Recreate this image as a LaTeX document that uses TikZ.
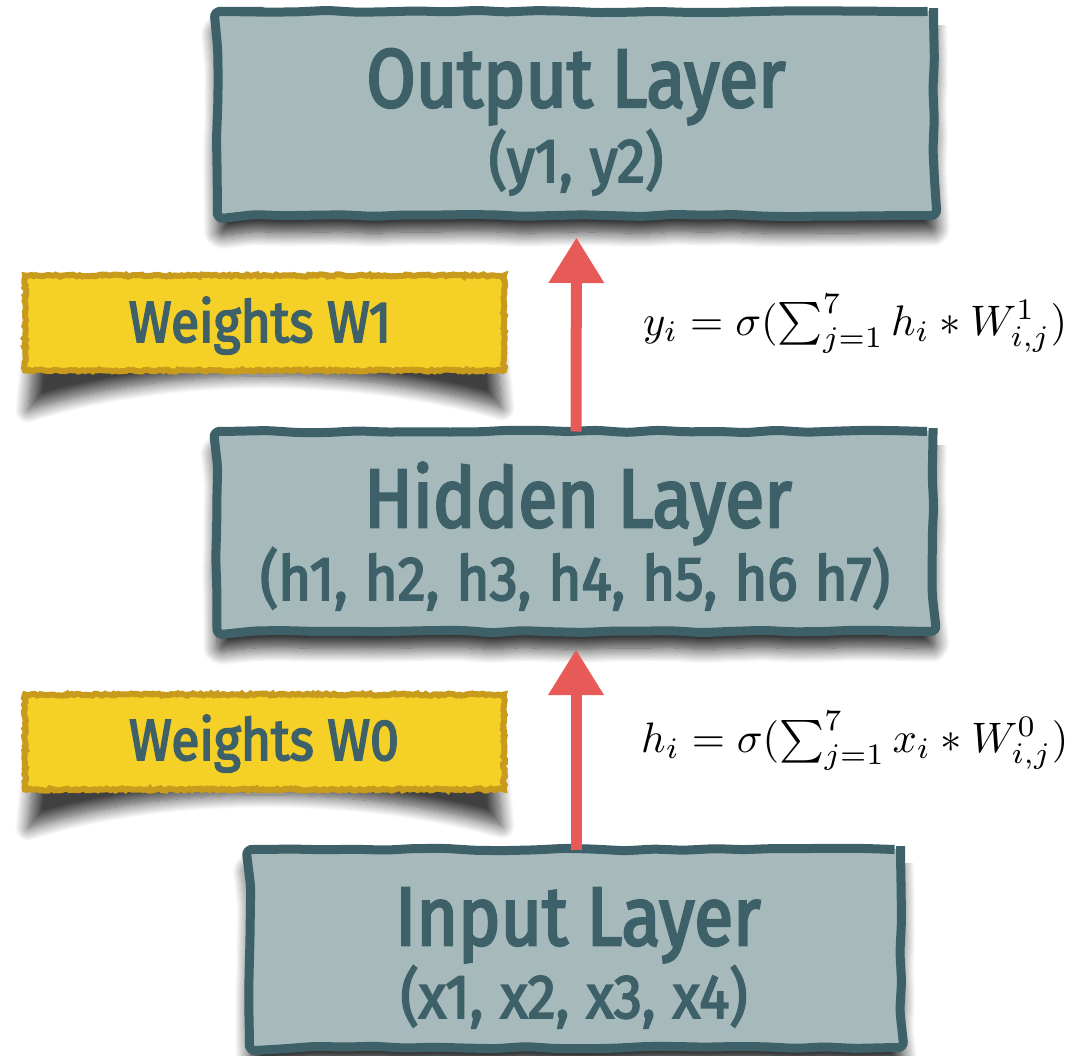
\documentclass[tikz,border=0pt]{standalone}
\usepackage[no-math]{fontspec}
\usepackage{graphicx}
\usetikzlibrary{decorations.pathmorphing,arrows.meta,shadows.blur}
\newfontfamily\dinfont[FakeStretch=0.86, FakeBold=3]{Fira Sans}
\newfontfamily\dinwide[FakeStretch=0.91, FakeBold=3, WordSpace=1.15]{Fira Sans}
\newfontfamily\dinnote[FakeStretch=0.89, FakeBold=3]{Fira Sans}

\definecolor{layerfill}{HTML}{A6BABB}
\definecolor{layerline}{HTML}{3E6069}
\definecolor{notefill}{HTML}{F5D027}
\definecolor{noteline}{HTML}{C89B1C}
\definecolor{flowred}{HTML}{E85A58}

\tikzset{
  layerbox/.style={rectangle, draw=layerline, fill=layerfill, line width=9pt,
    rounded corners=6pt, inner sep=0pt, outer sep=0pt,
    decorate, decoration={random steps, segment length=30pt, amplitude=1.3pt},
    blur shadow={shadow xshift=0pt, shadow yshift=-17pt,
      shadow blur radius=14pt, shadow opacity=85, shadow blur steps=14}},
  notebox/.style={rectangle, draw=noteline, fill=notefill, line width=6pt,
    inner sep=0pt, outer sep=0pt,
    decorate, decoration={random steps, segment length=2.5pt, amplitude=1.1pt}},
  curlshadow/.style={blur shadow={shadow xshift=0pt, shadow yshift=0pt,
      shadow blur radius=13pt, shadow opacity=75, shadow blur steps=14}},
  titletext/.style={font=\dinfont\fontsize{83}{90}\selectfont,
    text=layerline, inner sep=0pt, anchor=base},
  subtext/.style={font=\dinwide\fontsize{62}{70}\selectfont,
    text=layerline, inner sep=0pt, anchor=base},
  notetext/.style={font=\dinnote\fontsize{58}{64}\selectfont,
    text=layerline, inner sep=0pt, anchor=base},
  formula/.style={inner sep=0pt, anchor=base west},
  flowarrow/.style={draw=flowred, line width=11pt,
    -{Triangle[width=56pt, length=45pt, line width=0pt]}},
}

\begin{document}
\begin{tikzpicture}[x=1pt, y=-1pt]
\pgfmathsetseed{11}
\useasboundingbox (0,0) rectangle (1086,1056);

% curled shadows under the two weight labels
\path[curlshadow] (34,345) -- (496,345) -- (502,408)
  .. controls (420,384) and (330,376) .. (265,376)
  .. controls (200,376) and (110,384) .. (28,410) -- cycle;
\path[curlshadow] (34,764) -- (496,764) -- (502,826)
  .. controls (420,802) and (330,795) .. (265,795)
  .. controls (200,795) and (110,802) .. (28,828) -- cycle;

% layer boxes
\node[layerbox, minimum width=716pt, minimum height=204pt] (output) at (575.5,113.5) {};
\node[layerbox, minimum width=716pt, minimum height=200pt] (hidden) at (575,531.5) {};
\node[layerbox, minimum width=651pt, minimum height=198pt] (input) at (575,948.5) {};

% weight labels
\node[notebox, minimum width=479pt, minimum height=95pt] (w1) at (264.5,323) {};
\node[notebox, minimum width=479pt, minimum height=95pt] (w0) at (264.5,742) {};

% box texts
\node[titletext] (outtitle) at (576,107) {Output Layer};
\node[subtext] (outsub) at (576,182) {(y1, y2)};
\node[titletext] (hidtitle) at (578,527) {Hidden Layer};
\node[subtext] (hidsub) at (575,600) {(h1, h2, h3, h4, h5, h6 h7)};
\node[titletext] (intitle) at (578,945) {Input Layer};
\node[subtext] (insub) at (574,1018) {(x1, x2, x3, x4)};
\node[notetext] (w1text) at (260,342) {Weights W1};
\node[notetext] (w0text) at (264,760) {Weights W0};

% flow arrows
\draw[flowarrow, shorten >=22.5pt] ([xshift=1pt]hidden.north) -- ([xshift=1pt]output.south);
\draw[flowarrow, shorten >=18.5pt] ([xshift=1pt]input.north) -- ([xshift=1pt]hidden.south);

% update rules
\node[formula] (ruley) at (643,335)
  {\resizebox{424pt}{!}{$y_i = \sigma(\sum_{j=1}^{7} h_i * W^1_{i,j})$}};
\node[formula] (ruleh) at (641,752)
  {\resizebox{427pt}{!}{$h_i = \sigma(\sum_{j=1}^{7} x_i * W^0_{i,j})$}};
\end{tikzpicture}
\end{document}
